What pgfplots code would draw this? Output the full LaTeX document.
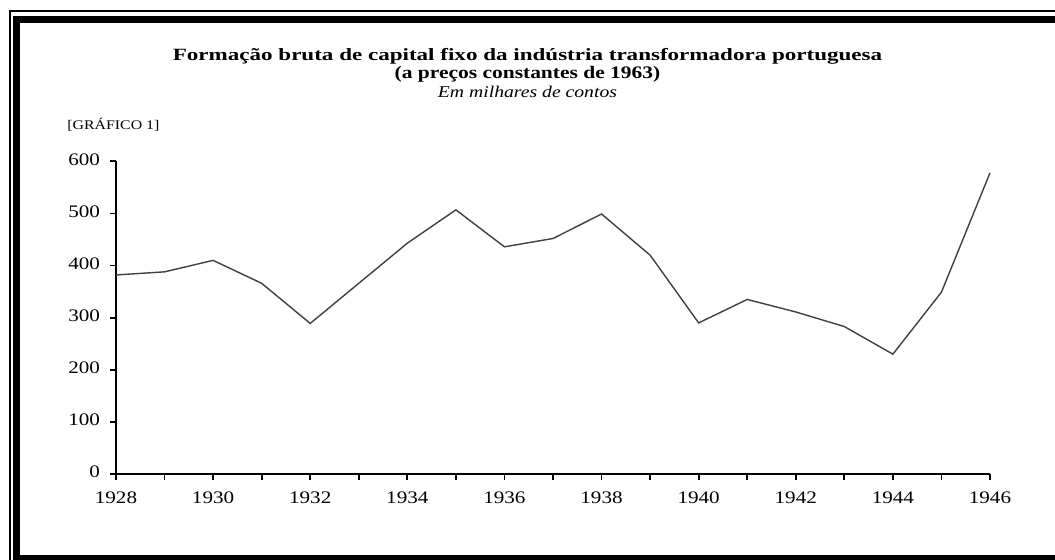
\documentclass[border=0pt]{standalone}
\usepackage{fontspec}
\setmainfont{Liberation Serif}[FakeStretch=1.2]
\newfontfamily\titlefont{Liberation Serif}[FakeStretch=1.34]
\newfontfamily\subtitlefont{Liberation Serif}[FakeStretch=1.22]
\usepackage{pgfplots}
\pgfplotsset{compat=1.18}
\begin{document}
\begin{tikzpicture}
\path[use as bounding box] (0pt,0pt) rectangle (527.5pt,280pt);
% frame
\draw[line width=1pt] (4.75pt,-5pt) -- (4.75pt,274.25pt) -- (540pt,274.25pt);
\fill (6.5pt,0pt) rectangle (10pt,272pt);
\fill (6.5pt,268.5pt) rectangle (527.5pt,272pt);
\fill (6.5pt,0pt) rectangle (527.5pt,2.5pt);
% titles
\node[font=\titlefont\fontsize{8.6}{10}\selectfont\bfseries] at (263.75pt,251.6pt) {Formação bruta de capital fixo da indústria transformadora portuguesa};
\node[font=\subtitlefont\fontsize{8.8}{10}\selectfont\bfseries] at (263.75pt,242.8pt) {(a preços constantes de 1963)};
\node[font=\fontsize{8.2}{10}\selectfont\itshape] at (263.75pt,234pt) {Em milhares de contos};
\node[font=\fontsize{6.6}{7}\selectfont, anchor=west, inner sep=0pt] at (33.5pt,217.5pt) {[GRÁFICO 1]};
\begin{axis}[
  at={(58pt,43pt)}, anchor=south west,
  scale only axis, width=437pt, height=156.3pt,
  xmin=1928, xmax=1946, ymin=0, ymax=600,
  axis x line=bottom, axis y line=left,
  axis line style={-, line width=1.1pt},
  xtick={1928,1930,...,1946},
  minor xtick={1929,1931,...,1945},
  ytick={0,100,...,600},
  tick align=outside,
  major tick length=3pt, minor tick length=3pt,
  every tick/.style={black, line width=0.9pt},
  /pgf/number format/assume math mode=true,
  x tick label style={/pgf/number format/1000 sep={}, font=\fontsize{8.8}{10}\selectfont, yshift=-2.5pt},
  y tick label style={font=\fontsize{8.8}{10}\selectfont, xshift=-1.5pt, yshift=1pt},
  clip=false,
]
\addplot[black!75, line width=0.7pt] coordinates {
(1928,382) (1929,388) (1930,410) (1931,366) (1932,289) (1933,366) (1934,443)
(1935,507) (1936,436) (1937,452) (1938,499) (1939,420) (1940,290) (1941,335)
(1942,311) (1943,283) (1944,230) (1945,349) (1946,578)
};
\end{axis}
\end{tikzpicture}
\end{document}
